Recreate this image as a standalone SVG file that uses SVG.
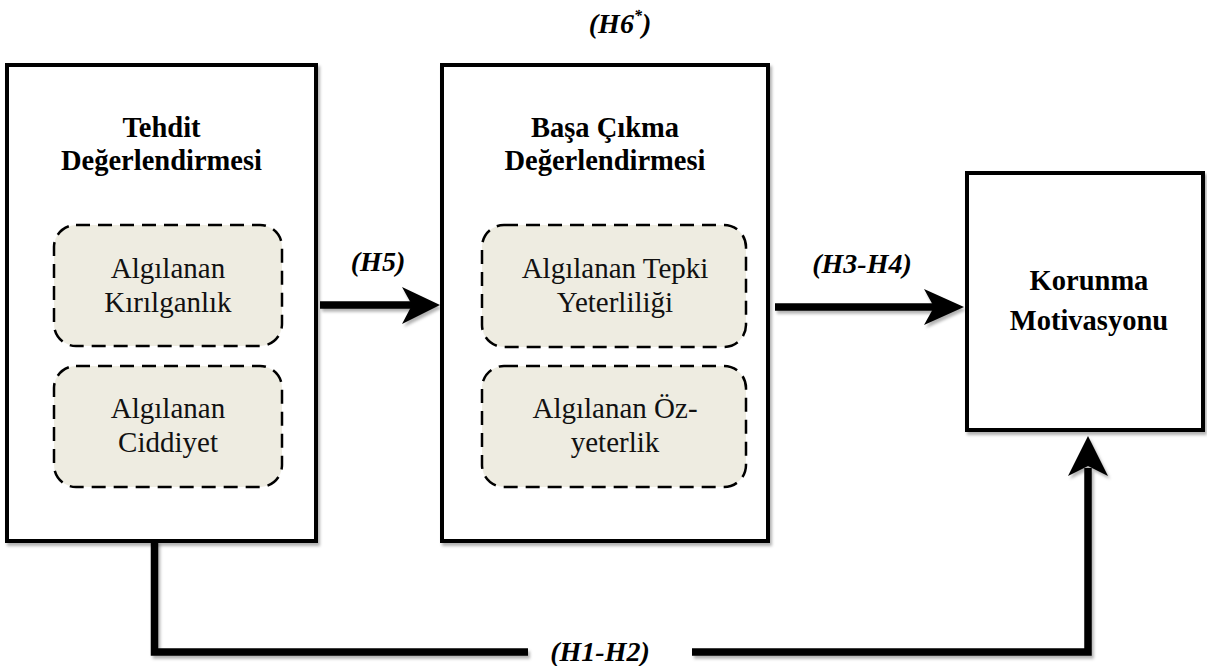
<svg xmlns="http://www.w3.org/2000/svg" width="1207" height="666" viewBox="0 0 1207 666">
<defs>
<filter id="sh" filterUnits="userSpaceOnUse" x="0" y="0" width="1207" height="666">
<feDropShadow dx="2" dy="3" stdDeviation="1.5" flood-color="#000" flood-opacity="0.3"/>
</filter>
<style>
.box{fill:#fff;stroke:#000;stroke-width:4;filter:url(#sh)}
.sub{fill:#EEECE1;stroke:#000;stroke-width:2.5;stroke-dasharray:14 8}
.t{font-family:"Liberation Serif","Times New Roman",serif;font-weight:bold;font-size:28.5px;text-anchor:middle;fill:#000}
.s{font-family:"Liberation Serif","Times New Roman",serif;font-size:29px;text-anchor:middle;fill:#111}
.l{font-family:"Liberation Serif","Times New Roman",serif;font-weight:bold;font-style:italic;font-size:28px;text-anchor:middle;fill:#000}
.c{fill:none;stroke:#000;stroke-width:7.5;filter:url(#sh)}
.h{fill:#000;filter:url(#sh)}
</style>
</defs>
<g id="tehdit">
<rect class="box" x="7" y="65" width="309" height="476"/>
<text class="t" x="161.5" y="137">Tehdit</text>
<text class="t" x="161.5" y="170">Değerlendirmesi</text>
<g id="kirilganlik">
<rect class="sub" x="54" y="225" width="228" height="121" rx="22"/>
<text class="s" x="168" y="278">Algılanan</text>
<text class="s" x="168" y="312">Kırılganlık</text>
</g>
<g id="ciddiyet">
<rect class="sub" x="54" y="366" width="228" height="121" rx="22"/>
<text class="s" x="168" y="418">Algılanan</text>
<text class="s" x="168" y="452">Ciddiyet</text>
</g>
</g>
<g id="basa">
<rect class="box" x="442" y="65" width="326" height="476"/>
<text class="t" x="605" y="137">Başa Çıkma</text>
<text class="t" x="605" y="170">Değerlendirmesi</text>
<g id="tepki">
<rect class="sub" x="482" y="225" width="264" height="122" rx="22"/>
<text class="s" x="615" y="278">Algılanan Tepki</text>
<text class="s" x="615" y="312">Yeterliliği</text>
</g>
<g id="ozyeterlik">
<rect class="sub" x="482" y="366" width="264" height="121" rx="22"/>
<text class="s" x="615" y="418">Algılanan Öz-</text>
<text class="s" x="615" y="452">yeterlik</text>
</g>
</g>
<g id="korunma">
<rect class="box" x="967" y="173" width="236" height="257"/>
<text class="t" x="1089" y="290">Korunma</text>
<text class="t" x="1089" y="330">Motivasyonu</text>
</g>
<g id="connectors">
<path class="c" d="M320,305 H412"/>
<path class="h" d="M440,305 L402,287 L412,305 L402,324 Z"/>
<path class="c" d="M775,307 H935"/>
<path class="h" d="M964,307 L924,289 L934,307 L924,325 Z"/>
<path class="c" d="M154.5,541 V652 H528 M692,652 H1088 V468"/>
<path class="h" d="M1088,436 L1068,476 L1088,466 L1108,476 Z"/>
</g>
<g id="labels">
<text class="l" x="620" y="33">(H6<tspan font-size="16" dy="-12">*</tspan><tspan dy="12">)</tspan></text>
<text class="l" x="378" y="271">(H5)</text>
<text class="l" x="862" y="273">(H3-H4)</text>
<text class="l" x="600" y="661">(H1-H2)</text>
</g>
</svg>
